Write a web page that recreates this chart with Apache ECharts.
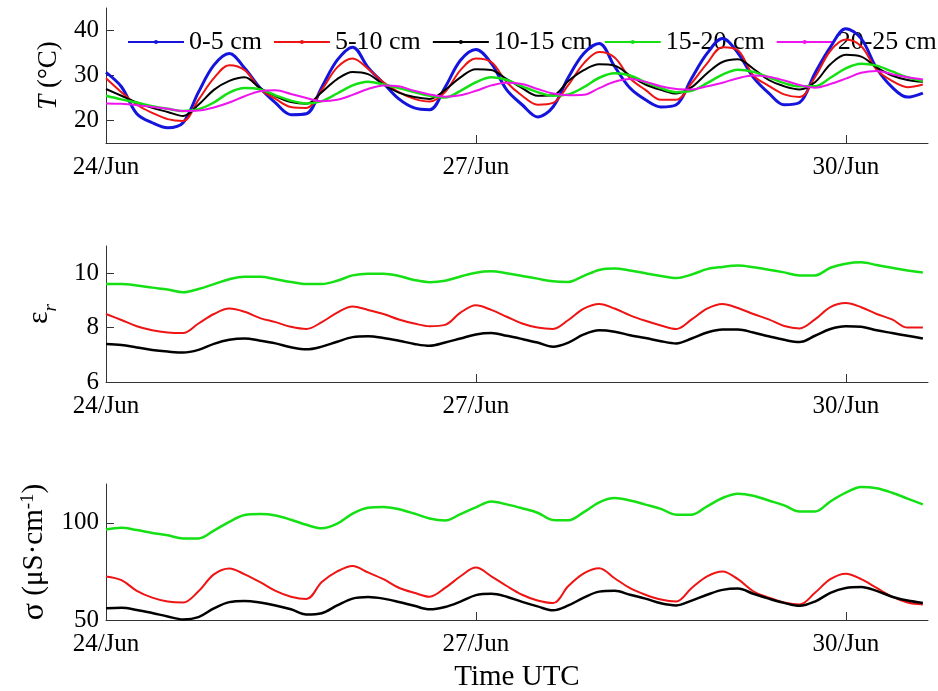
<!DOCTYPE html>
<html><head><meta charset="utf-8">
<script src="https://cdn.jsdelivr.net/npm/echarts@6/dist/echarts.min.js"></script>
<style>html,body{margin:0;padding:0;background:#fff}#c{width:938px;height:691px}</style>
</head><body><div id="c"></div>
<script>
// sample times, hours after 24 Jun 00:00 UTC
const hours = [0,3,6,9,12,15,18,21,24,27,30,33,36,39,42,45,48,51,54,57,60,63,66,69,72,75,78,81,84,87,90,93,96,99,102,105,108,111,114,117,120,123,126,129,132,135,138,141,144,147,150,153,156,159];
const xTickValues = [0,72,144];
const xTickLabels = ['24/Jun','27/Jun','30/Jun'];
const depthNames = ['0-5 cm','5-10 cm','10-15 cm','15-20 cm','20-25 cm'];

// Panel 1: temperature (°C)
const tBlue = [30.7,27.5,21.5,19.5,18.4,19.5,26.3,32.3,34.9,31.6,27.2,23.9,21.3,21.5,27.4,33.4,36.3,31.8,28.3,24.8,22.8,22.4,27.4,33.4,35.8,32.7,26.8,23.5,20.8,23.0,29.6,34.9,37.1,32.0,27.2,24.6,23.0,23.5,29.4,34.9,38.2,35.0,29.6,26.1,23.5,24.0,30.5,36.3,40.4,38.2,31.6,27.4,25.2,26.1];
const tRed = [29.4,26.3,23.5,21.7,20.3,19.9,24.6,29.4,32.3,31.2,27.0,24.8,23.0,22.8,26.8,31.8,33.8,31.5,28.5,26.3,24.8,24.2,26.3,31.2,33.8,33.0,28.5,25.5,23.5,23.9,27.9,32.7,35.2,34.0,29.4,26.8,24.6,24.6,28.3,32.7,36.3,35.6,30.0,27.7,25.8,25.2,29.6,35.5,38.0,36.5,31.3,28.8,27.4,28.0];
const tBlack = [27.0,25.5,24.0,22.8,21.9,21.0,23.5,26.8,28.8,29.6,27.2,25.4,24.1,23.7,26.3,29.2,30.8,30.3,28.0,26.2,25.2,24.8,26.8,29.6,31.4,31.2,29.2,27.2,25.5,25.6,28.8,31.2,32.5,32.2,30.0,28.0,26.8,26.0,27.4,30.5,33.0,33.6,31.5,29.0,27.6,26.9,28.5,32.5,34.6,34.2,31.8,30.0,29.0,28.6];
const tGreen = [25.5,24.7,24.0,23.2,22.6,22.1,22.5,24.0,26.2,27.2,26.9,25.6,24.4,23.8,24.3,26.0,27.8,28.6,28.0,27.2,26.3,25.5,25.1,26.6,28.5,29.6,29.0,27.6,26.3,25.5,25.8,27.4,29.5,30.5,30.0,28.5,27.2,26.3,26.6,28.3,30.2,31.3,30.8,29.6,28.3,27.6,27.6,29.5,31.6,32.6,32.2,30.9,29.6,28.8];
const tMagenta = [23.8,23.7,23.4,23.0,22.6,22.1,22.2,22.9,24.0,25.4,26.5,26.7,25.9,25.0,24.3,24.6,25.7,27.0,27.8,27.6,26.6,25.8,25.3,25.6,26.6,27.8,28.4,28.1,27.0,26.0,25.6,25.7,27.2,28.6,29.2,28.6,27.6,27.0,26.9,27.6,28.4,29.4,30.0,29.7,28.9,27.9,27.3,28.1,29.3,30.6,31.0,30.3,29.6,29.1];

// Panel 2: relative permittivity
const eGreen = [9.6,9.6,9.55,9.47,9.4,9.3,9.42,9.6,9.78,9.87,9.87,9.78,9.68,9.6,9.6,9.72,9.92,9.98,9.98,9.9,9.75,9.67,9.72,9.88,10.02,10.07,10.0,9.9,9.8,9.7,9.68,9.9,10.12,10.17,10.1,10.0,9.9,9.82,9.95,10.15,10.23,10.28,10.22,10.13,10.03,9.92,9.92,10.2,10.35,10.4,10.3,10.2,10.1,10.03];
const eRed = [8.5,8.28,8.05,7.9,7.82,7.8,8.15,8.5,8.7,8.58,8.35,8.2,8.03,7.95,8.2,8.55,8.78,8.65,8.5,8.3,8.15,8.05,8.1,8.55,8.82,8.65,8.4,8.15,8.0,7.95,8.28,8.7,8.87,8.7,8.45,8.25,8.08,7.95,8.3,8.7,8.87,8.72,8.5,8.3,8.06,7.97,8.3,8.75,8.9,8.75,8.5,8.3,8.0,8.0];
const eBlack = [7.4,7.36,7.27,7.18,7.12,7.08,7.18,7.4,7.55,7.6,7.52,7.42,7.28,7.2,7.3,7.48,7.65,7.68,7.62,7.52,7.4,7.33,7.45,7.6,7.75,7.8,7.7,7.58,7.45,7.3,7.45,7.75,7.9,7.85,7.72,7.62,7.5,7.42,7.6,7.82,7.93,7.93,7.82,7.68,7.55,7.47,7.7,7.95,8.05,8.03,7.9,7.8,7.7,7.6];

// Panel 3: electrical conductivity (µS/cm)
const sGreen = [96.6,97.5,96.3,94.8,93.6,92.0,92.0,96.0,100.5,104.0,104.5,103.8,101.6,99.0,97.2,99.6,104.8,107.8,108.2,107.0,104.8,102.2,101.2,104.5,108.0,111.0,109.5,107.5,105.2,101.5,101.3,105.5,110.6,112.8,111.5,109.4,107.2,104.2,104.2,108.5,112.8,115.0,114.0,111.5,109.0,105.8,105.8,111.0,115.5,118.5,117.8,115.5,112.5,109.5];
const sRed = [72.4,70.5,65.0,61.5,59.5,59.0,64.8,73.5,76.5,73.5,69.5,65.0,62.0,60.8,69.5,75.0,77.8,74.5,71.0,66.6,64.0,62.0,66.5,72.5,77.0,72.5,67.5,63.0,60.0,58.7,67.5,74.0,76.7,71.5,66.4,63.0,60.5,59.5,66.5,72.5,75.0,71.0,64.8,61.5,59.0,58.0,64.0,71.0,73.8,71.0,66.5,62.0,59.0,58.0];
const sBlack = [56.0,56.3,55.2,53.6,51.8,50.3,51.5,56.0,59.2,59.8,59.0,57.5,55.5,52.8,53.5,57.5,61.0,61.8,61.0,59.3,57.3,55.5,56.7,59.5,62.8,63.5,62.0,59.3,57.0,55.0,57.5,61.5,64.6,65.0,63.0,61.0,58.6,57.5,60.0,63.0,65.5,66.2,63.5,61.0,58.8,57.3,59.5,64.0,66.5,67.0,65.0,62.0,60.0,58.8];

const F = 'Liberation Serif';
const AX = '#333';
const C = {blue:'#1414dc', red:'#ee1414', black:'#000000', green:'#14e014', magenta:'#ee14ee'};

function pairs(arr){ return hours.map((h,i)=>[h, arr[i]]); }

function makeX(gi, name){
  const a = {
    type:'value', gridIndex:gi, min:0, max:160,
    axisLine:{show:true, lineStyle:{color:AX, width:1}},
    axisTick:{show:true, inside:true, length:8, customValues:xTickValues, lineStyle:{color:AX}},
    axisLabel:{customValues:xTickValues, formatter:(v)=>{const k=xTickValues.indexOf(v); return k>=0?xTickLabels[k]:'';},
      fontFamily:F, fontSize:25, color:'#000', margin:12},
    splitLine:{show:false}
  };
  if (name){ a.name=name; a.nameLocation='middle'; a.nameGap=43; a.nameTextStyle={fontFamily:F,fontSize:29,color:'#000'}; }
  return a;
}
function makeY(gi, min, max, ticks, name, gap, fs, rich){
  return {
    type:'value', gridIndex:gi, min:min, max:max,
    axisLine:{show:true, lineStyle:{color:AX, width:1}},
    axisTick:{show:true, inside:true, length:8, customValues:ticks, lineStyle:{color:AX}},
    axisLabel:{customValues:ticks, fontFamily:F, fontSize:25, color:'#000', margin:7},
    splitLine:{show:false},
    name:name, nameLocation:'middle', nameGap:gap, nameRotate:90,
    nameTextStyle:{fontFamily:F, fontSize:fs, color:'#000', rich:rich}
  };
}
function line(name, gi, arr, color, w){
  return {name:name, type:'line', xAxisIndex:gi, yAxisIndex:gi, data:pairs(arr),
    symbol:'circle', symbolSize:3, showSymbol:false, smooth:0.35, z:3,
    lineStyle:{color:color, width:w}, itemStyle:{color:color}, emphasis:{disabled:true}, animation:false};
}

const chart = echarts.init(document.getElementById('c'), null, {renderer:'canvas'});
chart.setOption({
  backgroundColor:'#fff',
  animation:false,
  grid:[
    {left:106, right:10, top:8, height:135, outerBoundsMode:'none'},
    {left:106, right:10, top:246, height:136, outerBoundsMode:'none'},
    {left:106, right:10, top:484, height:136, outerBoundsMode:'none'}
  ],
  legend:{
    data:depthNames, left:127, top:29, width:1000, padding:0, orient:'horizontal', z:1,
    itemWidth:56, itemHeight:5, itemGap:11,
    textStyle:{fontFamily:F, fontSize:26, color:'#000'}, selectedMode:false
  },
  xAxis:[makeX(0), makeX(1), makeX(2,'Time UTC')],
  yAxis:[
    makeY(0, 15, 45, [20,30,40], '{i|T} (°C)', 44, 27, {i:{fontStyle:'italic', fontFamily:F, fontSize:27, color:'#000'}}),
    makeY(1, 6, 11, [6,8,10], '{e|ε}{r|r}', 46, 27, {e:{fontFamily:F, fontSize:30, color:'#000', padding:[0,0,6,0]}, r:{fontFamily:F, fontStyle:'italic', fontSize:19, color:'#000', verticalAlign:'bottom'}}),
    makeY(2, 50, 120, [50,100], '{s|σ} (μS·cm{sup|-1})', 48, 29, {s:{fontFamily:F, fontSize:32, color:'#000'}, sup:{fontFamily:F, fontSize:19, color:'#000', verticalAlign:'top', padding:[0,0,10,0]}})
  ],
  series:[
    line(depthNames[0], 0, tBlue, C.blue, 3),
    line(depthNames[1], 0, tRed, C.red, 2),
    line(depthNames[2], 0, tBlack, C.black, 2),
    line(depthNames[3], 0, tGreen, C.green, 2.5),
    line(depthNames[4], 0, tMagenta, C.magenta, 2),
    line('εr upper', 1, eGreen, C.green, 2.5),
    line('εr middle', 1, eRed, C.red, 2),
    line('εr lower', 1, eBlack, C.black, 2.5),
    line('σ upper', 2, sGreen, C.green, 2.5),
    line('σ middle', 2, sRed, C.red, 2),
    line('σ lower', 2, sBlack, C.black, 2.5)
  ]
});
</script>
</body></html>
